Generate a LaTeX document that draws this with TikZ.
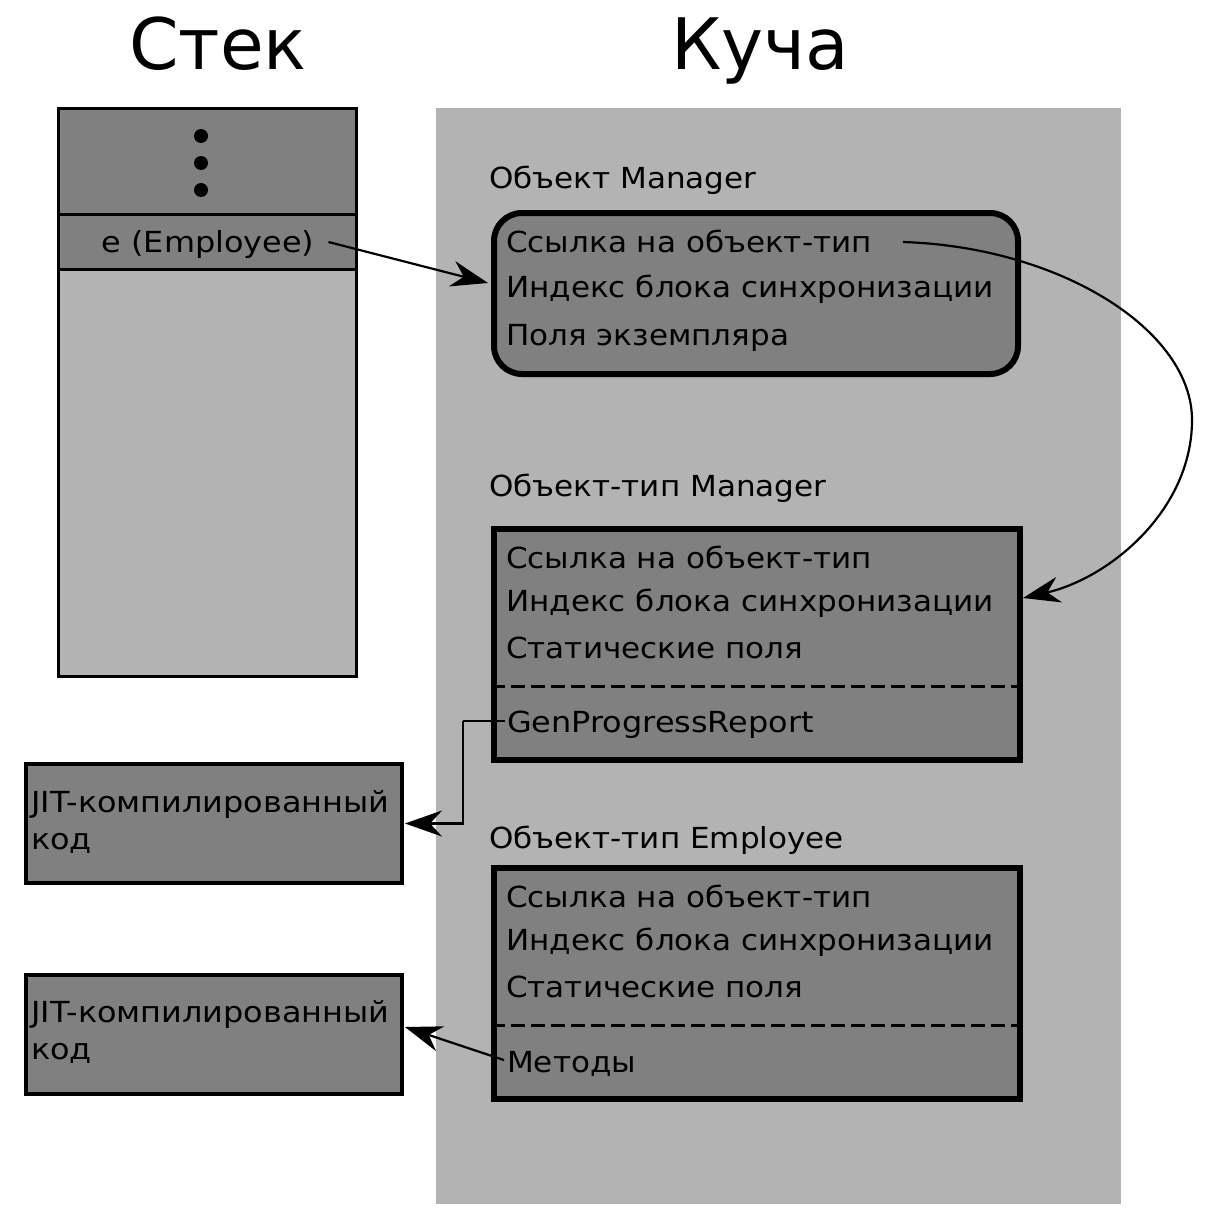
\documentclass[tikz,border=0pt]{standalone}
\usepackage{fontspec}
\setmainfont{DejaVu Sans}
\newfontfamily\wa[FakeStretch=1.07]{DejaVu Sans}
\newfontfamily\wb[FakeStretch=1.10]{DejaVu Sans}
\usetikzlibrary{arrows.meta}
\definecolor{dk}{HTML}{808080}
\definecolor{lt}{HTML}{B3B3B3}
\begin{document}
\begin{tikzpicture}[x=1pt,y=-1pt,
  txt/.style={inner sep=0pt, anchor=base west, font=\wa\fontsize{29}{37}\selectfont},
  txtb/.style={txt, font=\wb\fontsize{29}{37}\selectfont},
  ttl/.style={inner sep=0pt, anchor=base, font=\fontsize{71}{80}\selectfont},
  stk/.style={draw=black, line width=3pt, inner sep=0pt, minimum width=298pt},
  obox/.style={draw=black, fill=dk, line width=6pt, inner sep=0pt},
  jbox/.style={draw=black, fill=dk, line width=4pt, inner sep=0pt, minimum width=376pt, minimum height=119pt},
  dline/.style={line width=3pt, dash pattern=on 14pt off 6pt},
  arr/.style={line width=2.2pt, -{Stealth[length=37pt,width=26pt,inset=12pt]}}]
\useasboundingbox (0,0) rectangle (1212,1223);
\fill[white] (0,0) rectangle (1212,1223);

% titles
\node[ttl] (tstack) at (218,70) {Стек};
\node[ttl] (theap) at (760,70) {Куча};

% stack
\node[stk, fill=dk, minimum height=106pt] (stacktop) at (207.5,161) {};
\node[stk, fill=dk, minimum height=55pt] (stacke) at (207.5,241.5) {};
\node[stk, fill=lt, minimum height=407pt] (stackrest) at (207.5,472.5) {};
\foreach \yy in {136,163,190} \fill[black] (201,\yy) circle (7pt);
\node[txtb, anchor=base] (et) at (208,252) {e (Employee)};

% heap background
\node[fill=lt, inner sep=0pt, minimum width=685pt, minimum height=1096pt] (heap) at (778.5,656) {};

% object Manager
\node[txt] (lom) at (489,188) {Объект Manager};
\node[obox, rounded corners=28pt, minimum width=524pt, minimum height=161pt] (objmgr) at (756,293.5) {};
\node[txt] (om1) at (506,252) {Ссылка на объект-тип};
\node[txt] (om2) at (506,297) {Индекс блока синхронизации};
\node[txt] (om3) at (506,345) {Поля экземпляра};

% type Manager
\node[txt] (ltm) at (489,496) {Объект-тип Manager};
\node[obox, minimum width=526pt, minimum height=231pt] (tmgr) at (757,644.5) {};
\draw[dline] ([yshift=-41.5pt]tmgr.west) -- ([yshift=-41.5pt]tmgr.east);
\node[txt] (tm1) at (506,568) {Ссылка на объект-тип};
\node[txt] (tm2) at (506,611) {Индекс блока синхронизации};
\node[txt] (tm3) at (506,658) {Статические поля};
\node[txtb] (tm4) at (507,732) {GenProgressReport};

% type Employee
\node[txt] (lte) at (489,848) {Объект-тип Employee};
\node[obox, minimum width=526pt, minimum height=231pt] (temp) at (757,983.5) {};
\draw[dline] ([yshift=-41.5pt]temp.west) -- ([yshift=-41.5pt]temp.east);
\node[txt] (te1) at (506,907) {Ссылка на объект-тип};
\node[txt] (te2) at (506,950) {Индекс блока синхронизации};
\node[txt] (te3) at (506,997) {Статические поля};
\node[txt] (te4) at (507,1072) {Методы};

% JIT boxes
\node[jbox] (jit1) at (214,823.5) {};
\node[txtb, align=left, anchor=north west] (jit1t) at (31,790) {JIT-компилированный\\код};
\node[jbox] (jit2) at (214,1034.5) {};
\node[txtb, align=left, anchor=north west] (jit2t) at (31,1000) {JIT-компилированный\\код};

% connectors
\draw[arr] ([xshift=14pt,yshift=10pt]et.base east) -- ([xshift=-3pt,yshift=10.5pt]objmgr.west);
\coordinate (cv) at (1192,420);
\draw[arr] ([xshift=31pt,yshift=10pt]om1.base east) .. controls (1060,247) and (1192,330) .. (cv)
  .. controls (1192,510) and (1110,578) .. ([yshift=46.5pt]tmgr.east);
\draw[line width=2pt] ([xshift=-2pt,yshift=11pt]tm4.base west) -- ++(-42,0) coordinate (gp);
\draw[arr] (gp) |- ([xshift=1pt]jit1.east);
\draw[arr] ([xshift=-3pt,yshift=12pt]te4.base west) -- ([xshift=1pt,yshift=7.5pt]jit2.east);
\end{tikzpicture}
\end{document}
